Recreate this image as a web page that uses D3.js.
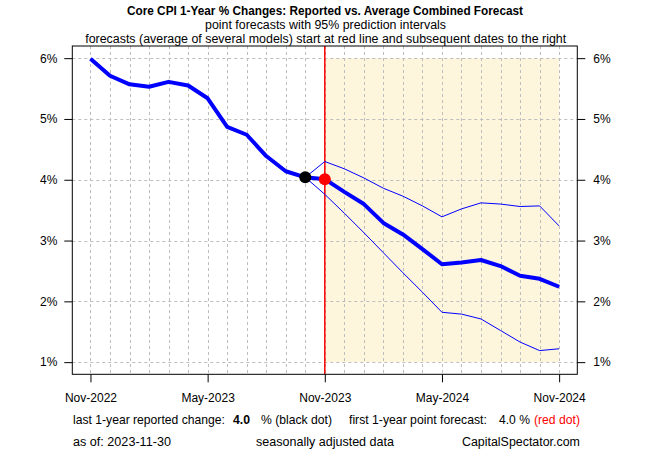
<!DOCTYPE html>
<html><head><meta charset="utf-8">
<script src="https://cdn.jsdelivr.net/npm/d3@7"></script>
<style>body{margin:0;background:#fff}svg{display:block}text{font-family:"Liberation Sans",Arial,sans-serif}</style>
</head><body><svg id="c" width="650" height="450"></svg>
<script>
// ---- data ----
const months = ["Nov-2022","Dec-2022","Jan-2023","Feb-2023","Mar-2023","Apr-2023","May-2023","Jun-2023","Jul-2023","Aug-2023","Sep-2023","Oct-2023",
  "Nov-2023","Dec-2023","Jan-2024","Feb-2024","Mar-2024","Apr-2024","May-2024","Jun-2024","Jul-2024","Aug-2024","Sep-2024","Oct-2024","Nov-2024"];
const reported = [5.99,5.71,5.57,5.53,5.61,5.55,5.34,4.87,4.74,4.39,4.14,4.04]; // Nov-2022..Oct-2023
const forecastMean  = [4.01,3.80,3.60,3.29,3.10,2.86,2.61,2.64,2.68,2.58,2.42,2.37,2.24]; // Nov-2023..Nov-2024
const forecastUpper = [4.30,4.18,4.03,3.86,3.73,3.57,3.39,3.52,3.62,3.60,3.56,3.57,3.24];
const forecastLower = [3.76,3.45,3.13,2.80,2.47,2.15,1.82,1.79,1.71,1.52,1.33,1.19,1.22];
const yTicks = [1,2,3,4,5,6];
const xTickIdx = [0,6,12,18,24];
const titleText = "Core CPI 1-Year % Changes: Reported vs. Average Combined Forecast";
const sub1 = "point forecasts with 95% prediction intervals";
const sub2 = "forecasts (average of several models) start at red line and subsequent dates to the right";
const lastReported = "4.0", firstForecast = "4.0";
const asOf = "2023-11-30";

// ---- layout ----
const svg = d3.select("#c");
const L = 72.3, R = 577.3, T = 46, B = 374.3;
const fcStart = reported.length; // index of Nov-2023
const x = d3.scaleLinear().domain([-0.93, 24.93]).range([L, R]);
const y = d3.scaleLinear().domain([0.8, 6.2]).range([B, T]);

// shading for forecast period
svg.append("rect").attr("x", x(fcStart)).attr("y", y(6))
  .attr("width", x(months.length-1) - x(fcStart)).attr("height", y(1) - y(6))
  .attr("fill", "#fdf5dc");

// grid
const grid = svg.append("g").attr("stroke", "#bdbdbd").attr("stroke-dasharray", "3,3").attr("stroke-width", 1);
months.forEach((m, i) => grid.append("line").attr("x1", Math.round(x(i))+0.5).attr("x2", Math.round(x(i))+0.5).attr("y1", T).attr("y2", B));
yTicks.forEach(v => grid.append("line").attr("x1", L).attr("x2", R).attr("y1", Math.round(y(v))+0.5).attr("y2", Math.round(y(v))+0.5));

// red vertical line
svg.append("line").attr("x1", x(fcStart)).attr("x2", x(fcStart)).attr("y1", T).attr("y2", B)
  .attr("stroke", "#ff0000").attr("stroke-width", 1.5);

// lines
const line = d3.line().x(d => x(d[0])).y(d => y(d[1]));
const repPts = reported.map((v, i) => [i, v]);
const last = repPts[repPts.length-1];
const meanPts = [last].concat(forecastMean.map((v, i) => [fcStart + i, v]));
const upPts = [last].concat(forecastUpper.map((v, i) => [fcStart + i, v]));
const loPts = [last].concat(forecastLower.map((v, i) => [fcStart + i, v]));
svg.append("path").attr("d", line(upPts)).attr("fill", "none").attr("stroke", "#0000ff").attr("stroke-width", 1);
svg.append("path").attr("d", line(loPts)).attr("fill", "none").attr("stroke", "#0000ff").attr("stroke-width", 1);
svg.append("path").attr("d", line(repPts)).attr("fill", "none").attr("stroke", "#0000ff").attr("stroke-width", 4).attr("stroke-linejoin", "round");
svg.append("path").attr("d", line(meanPts)).attr("fill", "none").attr("stroke", "#0000ff").attr("stroke-width", 4).attr("stroke-linejoin", "round");

// dots
svg.append("circle").attr("cx", x(last[0])).attr("cy", y(last[1])).attr("r", 6).attr("fill", "#000");
svg.append("circle").attr("cx", x(fcStart)).attr("cy", y(forecastMean[0])).attr("r", 6).attr("fill", "#ff0000");

// box
svg.append("rect").attr("x", L).attr("y", T).attr("width", R - L).attr("height", B - T)
  .attr("fill", "none").attr("stroke", "#000").attr("stroke-width", 1);

// axes
const fmtPct = d => d + "%";
const styleAxis = g => { g.select(".domain").remove(); g.selectAll("text").attr("font-size", 12).attr("font-family", '"Liberation Sans",Arial,sans-serif').attr("fill", "#000"); g.selectAll("line").attr("stroke", "#000"); };
svg.append("g").attr("transform", `translate(${L},0)`)
  .call(d3.axisLeft(y).tickValues(yTicks).tickFormat(fmtPct).tickSize(8).tickPadding(7)).call(styleAxis);
svg.append("g").attr("transform", `translate(${R},0)`)
  .call(d3.axisRight(y).tickValues(yTicks).tickFormat(fmtPct).tickSize(8).tickPadding(8)).call(styleAxis);
svg.append("g").attr("transform", `translate(0,${B})`)
  .call(d3.axisBottom(x).tickValues(xTickIdx).tickFormat(i => months[i]).tickSize(8).tickPadding(11)).call(styleAxis);

// text helpers
function fit(sel, target) {
  const w = sel.node().getComputedTextLength();
  const fs = parseFloat(sel.attr("font-size"));
  sel.attr("font-size", (fs * target / w).toFixed(2));
  return sel;
}
function squeeze(sel, target) {
  return sel.attr("textLength", target).attr("lengthAdjust", "spacingAndGlyphs");
}
squeeze(svg.append("text").attr("x", 325).attr("y", 15).attr("text-anchor", "middle").attr("font-size", 13.5).attr("font-weight", "bold").text(titleText), 396);
squeeze(svg.append("text").attr("x", 325.5).attr("y", 29).attr("text-anchor", "middle").attr("font-size", 12.5).text(sub1), 241);
squeeze(svg.append("text").attr("x", 325.7).attr("y", 42.5).attr("text-anchor", "middle").attr("font-size", 12.5).text(sub2), 481);

// bottom notes
const r1 = 423.5, r2 = 445.5;
const note = (xx, yy, t, w, opts = {}) => {
  const s = svg.append("text").attr("x", xx).attr("y", yy).attr("font-size", 12).attr("fill", opts.fill || "#000")
    .attr("font-weight", opts.bold ? "bold" : null).text(t);
  if (w) fit(s, w);
  return s;
};
note(73, r1, "last 1-year reported change:", 152);
note(233, r1, lastReported, 17, {bold: true});
note(261, r1, "% (black dot)", 71);
note(349, r1, "first 1-year point forecast:", 138);
note(499, r1, firstForecast + " %", 31);
note(534, r1, "(red dot)", 46, {fill: "#ff0000"});
note(73, r2, "as of:  " + asOf, 98);
note(256, r2, "seasonally adjusted data", 138);
note(462, r2, "CapitalSpectator.com", 118);
</script></body></html>
